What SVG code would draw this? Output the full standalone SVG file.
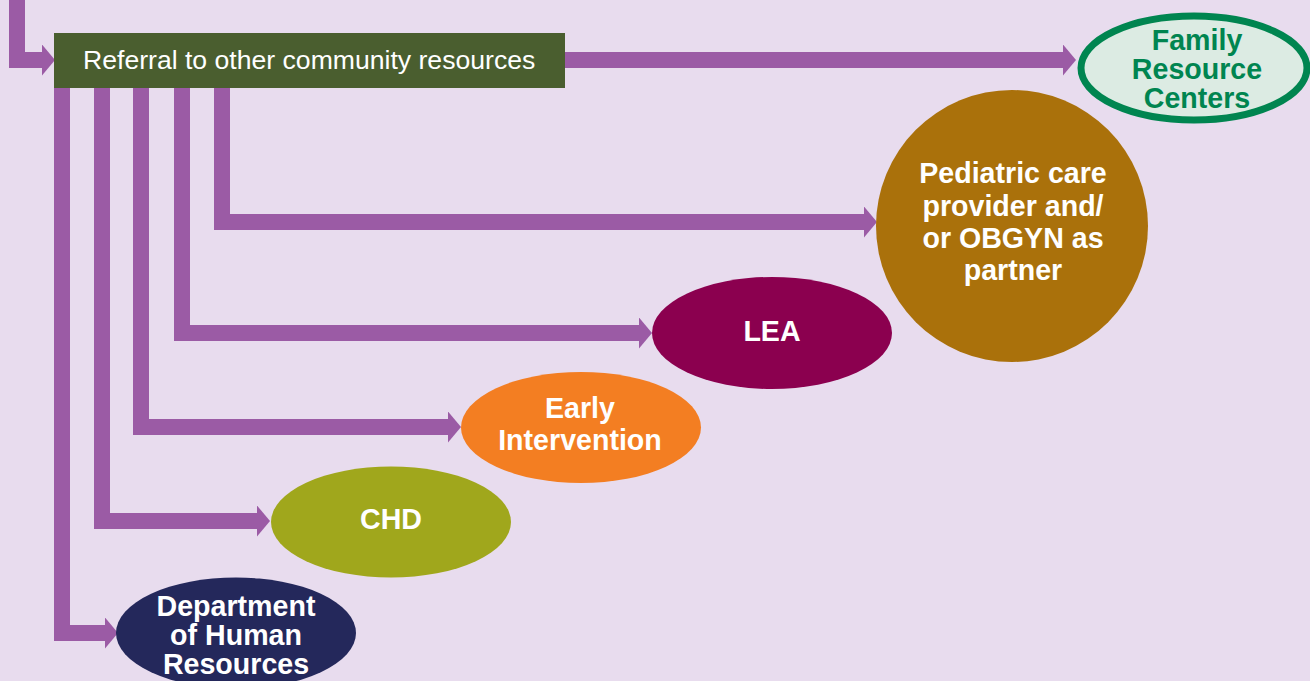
<svg xmlns="http://www.w3.org/2000/svg" width="1310" height="681" viewBox="0 0 1310 681">
<style>
.conn{fill:none;stroke:#9b5ba5;stroke-width:16;stroke-linejoin:miter;stroke-linecap:butt;marker-end:url(#ah)}
.lbl{font-family:"Liberation Sans",Arial,sans-serif;font-weight:bold;font-size:28.6px;fill:#fff;text-anchor:middle}
.grn{fill:#008550}
</style>
<defs>
<marker id="ah" viewBox="0 0 13 31" markerWidth="13" markerHeight="31" markerUnits="userSpaceOnUse" refX="0" refY="15.5" orient="auto">
<path d="M0,0 L13,15.5 L0,31 Z" fill="#9b5ba5"/>
</marker>
</defs>
<rect width="1310" height="681" fill="#e8dcee"/>
<g id="connectors">
<path class="conn" d="M17,0 V60 H42"/>
<path class="conn" d="M565,60 H1063"/>
<path class="conn" d="M62,88 V633 H105"/>
<path class="conn" d="M102,88 V521 H257"/>
<path class="conn" d="M141,88 V427 H448"/>
<path class="conn" d="M182,88 V333 H639"/>
<path class="conn" d="M222,88 V222 H864"/>
</g>
<g id="referral">
<rect x="54" y="33" width="511" height="55" fill="#4a5e2f"/>
<text x="83" y="69" font-family="'Liberation Sans',Arial,sans-serif" font-size="26.6" fill="#fff">Referral to other community resources</text>
</g>
<g id="frc">
<ellipse cx="1194" cy="68" rx="113" ry="52" fill="#dcebe3" stroke="#008550" stroke-width="7"/>
<text class="lbl grn" x="1197" y="50" style="fill:#008550">Family</text>
<text class="lbl grn" x="1197" y="79" style="fill:#008550">Resource</text>
<text class="lbl grn" x="1197" y="108" style="fill:#008550">Centers</text>
</g>
<g id="pediatric">
<circle cx="1012" cy="226" r="136" fill="#aa710b"/>
<text class="lbl" x="1013" y="183">Pediatric care</text>
<text class="lbl" x="1013" y="216">provider and/</text>
<text class="lbl" x="1013" y="248">or OBGYN as</text>
<text class="lbl" x="1013" y="280">partner</text>
</g>
<g id="lea">
<ellipse cx="772" cy="333" rx="120" ry="56" fill="#8b004f"/>
<text class="lbl" x="772" y="341">LEA</text>
</g>
<g id="early">
<ellipse cx="581" cy="427.5" rx="120" ry="55.5" fill="#f37e22"/>
<text class="lbl" x="580" y="418">Early</text>
<text class="lbl" x="580" y="450">Intervention</text>
</g>
<g id="chd">
<ellipse cx="391" cy="522" rx="120" ry="55.5" fill="#a0a71c"/>
<text class="lbl" x="391" y="529">CHD</text>
</g>
<g id="dhr">
<ellipse cx="236" cy="633" rx="120" ry="55.5" fill="#24285b"/>
<text class="lbl" x="236" y="616">Department</text>
<text class="lbl" x="236" y="645">of Human</text>
<text class="lbl" x="236" y="674">Resources</text>
</g>
</svg>
